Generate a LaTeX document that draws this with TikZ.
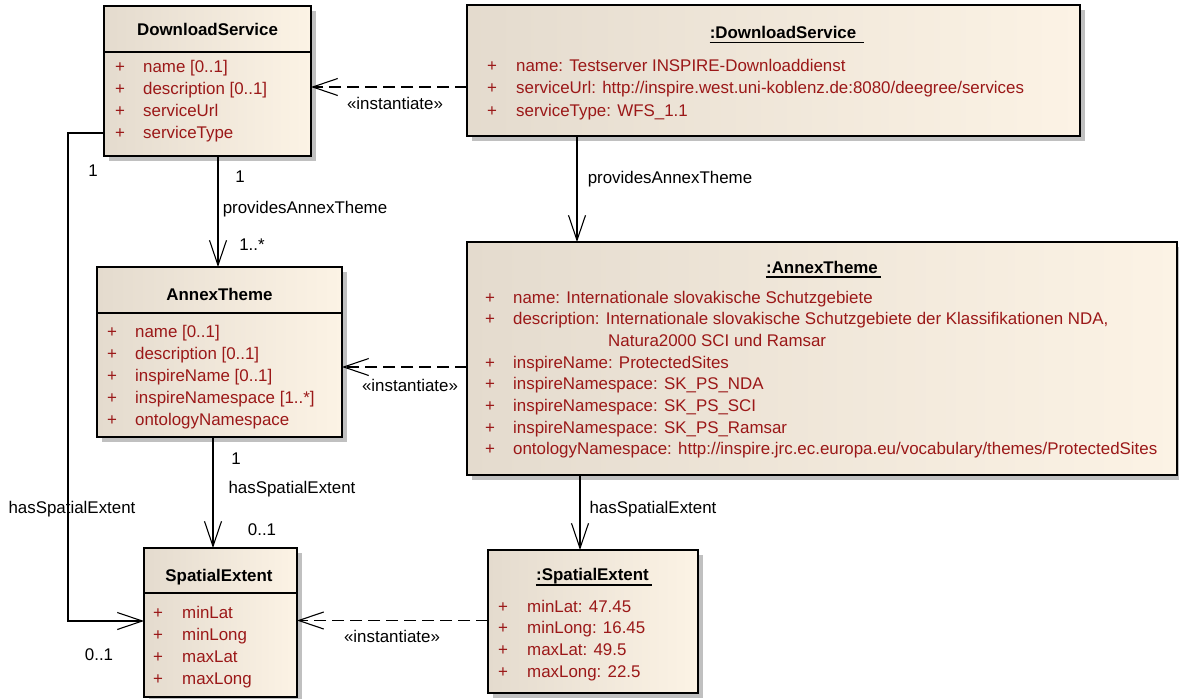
\documentclass[tikz,border=0pt]{standalone}
\usepackage{fontspec}
\setmainfont{Liberation Sans}
\usetikzlibrary{arrows.meta,shadows}
\definecolor{fillL}{RGB}{228,219,206}
\definecolor{fillR}{RGB}{252,243,229}
\definecolor{attrred}{RGB}{155,24,24}
\definecolor{shadowgrey}{RGB}{192,192,192}

\begin{document}
\begin{tikzpicture}[x=1pt,y=-1pt,
  every node/.style={font=\fontsize{16.9}{20}\selectfont, inner sep=0pt},
  umlbox/.style={draw=black, line width=1.5pt, rectangle, outer sep=0pt,
    left color=fillL, right color=fillR,
    drop shadow={shadow xshift=5pt, shadow yshift=-5pt, fill=shadowgrey, opacity=1}},
  sepline/.style={line width=1.5pt},
  title/.style={anchor=base},
  attr/.style={anchor=base west, text=attrred},
  lbl/.style={anchor=base},
  uline/.style={line width=1.2pt},
  assoc/.style={draw=black, line width=1.1pt,
    -{Straight Barb[length=25pt,width=17pt,line width=1.1pt]}},
  inst/.style={assoc, dash pattern=on 12pt off 6pt}
]
\useasboundingbox (0,0) rectangle (1179,699);

% ---------- class DownloadService ----------
\node[umlbox, minimum width=207pt, minimum height=150pt] (ds) at (207.5,81) {};
\draw[sepline] ([yshift=-46pt]ds.north west) -- ([yshift=-46pt]ds.north east);
\node[title] (dsT) at (207.5,35) {\bfseries DownloadService};
\foreach \t [count=\i] in {{name [0..1]},{description [0..1]},{serviceUrl},{serviceType}} {
  \node[attr] (dsP\i) at (115,{72+22.3*(\i-1)}) {+};
  \node[attr] (dsA\i) at (143,{72+22.3*(\i-1)}) {\t};
}

% ---------- class AnnexTheme ----------
\node[umlbox, minimum width=245pt, minimum height=170pt] (at) at (219.5,352) {};
\draw[sepline] ([yshift=-46pt]at.north west) -- ([yshift=-46pt]at.north east);
\node[title] (atT) at (219.5,300) {\bfseries AnnexTheme};
\foreach \t [count=\i] in {{name [0..1]},{description [0..1]},{inspireName [0..1]},{inspireNamespace [1..*]},{ontologyNamespace}} {
  \node[attr] (atP\i) at (107,{337+22.1*(\i-1)}) {+};
  \node[attr] (atA\i) at (135,{337+22.1*(\i-1)}) {\t};
}

% ---------- class SpatialExtent ----------
\node[umlbox, minimum width=153pt, minimum height=149pt] (se) at (220.5,622.5) {};
\draw[sepline] ([yshift=-45pt]se.north west) -- ([yshift=-45pt]se.north east);
\node[title] (seT) at (219,581) {\bfseries SpatialExtent};
\foreach \t [count=\i] in {minLat,minLong,maxLat,maxLong} {
  \node[attr] (seP\i) at (153,{618+22*(\i-1)}) {+};
  \node[attr] (seA\i) at (182,{618+22*(\i-1)}) {\t};
}

% ---------- instance :DownloadService ----------
\node[umlbox, minimum width=613pt, minimum height=131pt] (ids) at (773.5,70.5) {};
\node[title] (idsT) at (783,38) {\bfseries :DownloadService};
\draw[uline] ([yshift=-4.5pt]idsT.base west) -- ([yshift=-4.5pt,xshift=8pt]idsT.base east);
\foreach \t [count=\i] in {{name: Testserver INSPIRE-Downloaddienst},{serviceUrl: http://inspire.west.uni-koblenz.de:8080/deegree/services},{serviceType: WFS\_1.1}} {
  \node[attr] (idsP\i) at (487,{71+22.5*(\i-1)}) {+};
  \node[attr] (idsA\i) at (516,{71+22.5*(\i-1)}) {\t};
}

% ---------- instance :AnnexTheme ----------
\node[umlbox, minimum width=710pt, minimum height=233pt] (iat) at (822,358.5) {};
\node[title] (iatT) at (822,273) {\bfseries :AnnexTheme};
\draw[uline] ([yshift=-4pt]iatT.base west) -- ([yshift=-4pt,xshift=3pt]iatT.base east);
\node[attr] (iatP1) at (485,303) {+};
\node[attr] (iatA1) at (513,303) {name: Internationale slovakische Schutzgebiete};
\node[attr] (iatP2) at (485,324.7) {+};
\node[attr] (iatA2) at (513,324.7) {description: Internationale slovakische Schutzgebiete der Klassifikationen NDA,};
\node[attr] (iatA2b) at (608,346.4) {Natura2000 SCI und Ramsar};
\node[attr] (iatP3) at (485,368.1) {+};
\node[attr] (iatA3) at (513,368.1) {inspireName: ProtectedSites};
\node[attr] (iatP4) at (485,389.8) {+};
\node[attr] (iatA4) at (513,389.8) {inspireNamespace: SK\_PS\_NDA};
\node[attr] (iatP5) at (485,411.5) {+};
\node[attr] (iatA5) at (513,411.5) {inspireNamespace: SK\_PS\_SCI};
\node[attr] (iatP6) at (485,433.2) {+};
\node[attr] (iatA6) at (513,433.2) {inspireNamespace: SK\_PS\_Ramsar};
\node[attr] (iatP7) at (485,454.9) {+};
\node[attr] (iatA7) at (513,454.9) {ontologyNamespace: http://inspire.jrc.ec.europa.eu/vocabulary/themes/ProtectedSites};

% ---------- instance :SpatialExtent ----------
\node[umlbox, minimum width=210pt, minimum height=143pt] (ise) at (593,621.5) {};
\node[title] (iseT) at (592.5,580) {\bfseries :SpatialExtent};
\draw[uline] ([yshift=-5pt]iseT.base west) -- ([yshift=-5pt,xshift=3pt]iseT.base east);
\foreach \t [count=\i] in {{minLat: 47.45},{minLong: 16.45},{maxLat: 49.5},{maxLong: 22.5}} {
  \node[attr] (iseP\i) at (498,{612+21.7*(\i-1)}) {+};
  \node[attr] (iseA\i) at (527,{612+21.7*(\i-1)}) {\t};
}

% ---------- instantiation dependencies ----------
\draw[inst] ([yshift=-16.5pt]ids.west) -- ([yshift=-16.5pt]ids.west -| ds.east);
\draw[inst] ([yshift=-8.5pt]iat.west) -- ([yshift=-8.5pt]iat.west -| at.east);
\draw[inst] ([yshift=1pt]ise.west) -- ([yshift=1pt]ise.west -| se.east);
\node[lbl] (inst1) at (395,109) {«instantiate»};
\node[lbl] (inst2) at (410,391) {«instantiate»};
\node[lbl] (inst3) at (392,642) {«instantiate»};

% ---------- associations between classes ----------
\draw[assoc] ([xshift=10.5pt]ds.south) -- ([xshift=10.5pt]ds.south |- at.north);
\node[lbl] (m1) at (240,182) {1};
\node[lbl] (r1) at (305,213) {providesAnnexTheme};
\node[lbl] (m2) at (252,250) {1..*};

\draw[assoc] ([xshift=-6.5pt]at.south) -- ([xshift=-6.5pt]at.south |- se.north);
\node[lbl] (m3) at (236,464) {1};
\node[lbl] (r2) at (292,493) {hasSpatialExtent};
\node[lbl] (m4) at (262,535) {0..1};

\draw[assoc] ([yshift=-52pt]ds.west) -- ++(-36,0) |- ([yshift=1.5pt]se.west);
\node[lbl] (m5) at (93,176) {1};
\node[lbl] (r3) at (72,513) {hasSpatialExtent};
\node[lbl] (m6) at (99,660) {0..1};

% ---------- links between instances ----------
\draw[assoc] ([xshift=-196.5pt]ids.south) -- ([xshift=-196.5pt]ids.south |- iat.north);
\node[lbl] (r4) at (670,183) {providesAnnexTheme};

\draw[assoc] ([xshift=-242pt]iat.south) -- ([xshift=-242pt]iat.south |- ise.north);
\node[lbl] (r5) at (653,513) {hasSpatialExtent};
\end{tikzpicture}
\end{document}
